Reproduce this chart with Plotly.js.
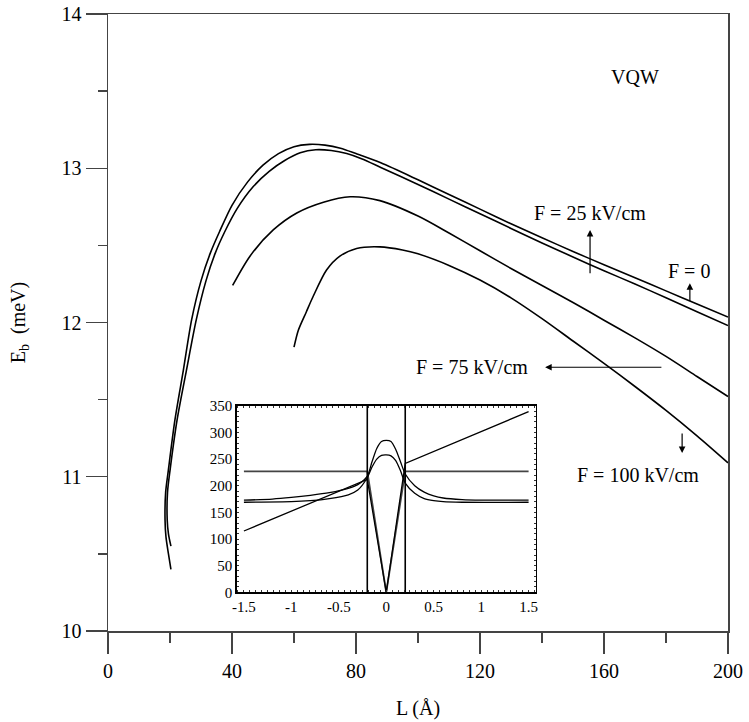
<!DOCTYPE html>
<html>
<head>
<meta charset="utf-8">
<script src="https://cdn.plot.ly/plotly-3.0.1.min.js"></script>
<style>html,body{margin:0;padding:0;background:#fff;}#chart{width:749px;height:722px;}</style>
</head>
<body>
<div id="chart"></div>
<script>
// ---- Main chart data: binding energy Eb (meV) vs well width L (Å) ----
const L_F0 = [20.3, 19.5, 18.7, 18.4, 18.6, 19.45, 21.6, 24.3, 27.0, 30, 33, 36, 40, 45, 50, 55, 60, 65, 70, 75, 80, 88, 100, 110, 120, 130, 140, 150, 160, 170, 180, 190, 200];
const E_F0 = [10.40, 10.50, 10.61, 10.72, 10.90, 11.04, 11.37, 11.69, 12.02, 12.27, 12.45, 12.59, 12.76, 12.91, 13.02, 13.095, 13.14, 13.155, 13.15, 13.13, 13.095, 13.035, 12.925, 12.83, 12.735, 12.64, 12.55, 12.46, 12.375, 12.29, 12.205, 12.12, 12.035];

const L_F25 = [20.3, 19.5, 19.1, 19.2, 20.0, 22.3, 25.3, 28.5, 31.6, 34.6, 37.7, 41.7, 46.8, 52, 57, 62, 67, 72, 77, 82, 88, 100, 110, 120, 130, 140, 150, 160, 170, 180, 190, 200];
const E_F25 = [10.55, 10.63, 10.72, 10.90, 11.04, 11.37, 11.69, 12.02, 12.27, 12.45, 12.59, 12.74, 12.88, 12.98, 13.05, 13.10, 13.12, 13.115, 13.095, 13.06, 13.005, 12.895, 12.80, 12.705, 12.61, 12.515, 12.425, 12.335, 12.25, 12.16, 12.07, 11.98];

const L_F75 = [40.2, 45.8, 53.3, 60.9, 69.5, 78.1, 87.7, 100, 110, 120, 130, 140, 150, 160, 170, 180, 190, 200];
const E_F75 = [12.24, 12.43, 12.60, 12.71, 12.78, 12.815, 12.79, 12.69, 12.58, 12.465, 12.35, 12.24, 12.13, 12.015, 11.90, 11.78, 11.65, 11.52];

const L_F100 = [60, 61.4, 64, 66.2, 70.5, 74.8, 80.2, 87.7, 95, 100, 110, 120, 130, 140, 150, 160, 170, 180, 190, 200];
const E_F100 = [11.84, 11.95, 12.07, 12.17, 12.34, 12.43, 12.48, 12.49, 12.47, 12.445, 12.37, 12.275, 12.16, 12.025, 11.88, 11.735, 11.585, 11.43, 11.265, 11.09];

// ---- Inset data: potential profiles and densities vs z ----
const z_pot = [-1.5, -0.2, 0, 0.2, 1.5];
const V_F0 = [227, 227, 0, 227, 227];
const V_F = [115, 212, 0, 242, 339];
const z_wall = [-0.2, 0.2];
const wall_y = [0, 350];

const z_wA = [-1.5, -1.2, -1.0, -0.8, -0.6, -0.4, -0.3, -0.2, -0.15, -0.1, -0.05, 0, 0.05, 0.1, 0.15, 0.2, 0.3, 0.4, 0.5, 0.6, 0.8, 1.0, 1.5];
const psiA = [173, 175, 178, 182, 187, 195, 202, 218, 245, 270, 283, 285, 283, 268, 245, 222, 200, 188, 181, 177, 174, 173, 173];
const z_wB = [-1.5, -1.0, -0.8, -0.6, -0.4, -0.3, -0.2, -0.15, -0.1, -0.05, 0, 0.05, 0.1, 0.15, 0.2, 0.3, 0.4, 0.5, 0.6, 0.8, 1.5];
const psiB = [169, 170, 172, 176, 183, 192, 215, 235, 250, 257, 258, 256, 247, 228, 205, 186, 176, 172, 170, 169, 169];

const xTicksMain = [0, 40, 80, 120, 160, 200];
const yTicksMain = [10, 11, 12, 13, 14];
const xTicksInset = [-1.5, -1, -0.5, 0, 0.5, 1, 1.5];
const xTickTextInset = ['-1.5', '-1', '-0.5', '0', '0.5', '1', '1.5'];

const FONT = 'Liberation Serif';
const lineMain = {color: '#000', width: 1.6, shape: 'spline', smoothing: 0.8};
const lineIn = {color: '#000', width: 1.3};

const traces = [
  {x: L_F0, y: E_F0, mode: 'lines', line: lineMain, xaxis: 'x', yaxis: 'y'},
  {x: L_F25, y: E_F25, mode: 'lines', line: lineMain, xaxis: 'x', yaxis: 'y'},
  {x: L_F75, y: E_F75, mode: 'lines', line: lineMain, xaxis: 'x', yaxis: 'y'},
  {x: L_F100, y: E_F100, mode: 'lines', line: lineMain, xaxis: 'x', yaxis: 'y'},
  {x: z_pot, y: V_F0, mode: 'lines', line: {color: '#444', width: 1.8}, xaxis: 'x2', yaxis: 'y2'},
  {x: z_pot, y: V_F, mode: 'lines', line: lineIn, xaxis: 'x2', yaxis: 'y2'},
  {x: [z_wall[0], z_wall[0]], y: wall_y, mode: 'lines', line: {color: '#000', width: 1.6}, xaxis: 'x2', yaxis: 'y2'},
  {x: [z_wall[1], z_wall[1]], y: wall_y, mode: 'lines', line: {color: '#000', width: 1.6}, xaxis: 'x2', yaxis: 'y2'},
  {x: z_wA, y: psiA, mode: 'lines', line: Object.assign({shape: 'spline', smoothing: 0.7}, lineIn), xaxis: 'x2', yaxis: 'y2'},
  {x: z_wB, y: psiB, mode: 'lines', line: Object.assign({shape: 'spline', smoothing: 0.7}, lineIn), xaxis: 'x2', yaxis: 'y2'}
];

function arrow(x, y, ax, ay) {
  return {x: x, y: y, ax: ax, ay: ay, xref: 'x', yref: 'y', axref: 'x', ayref: 'y',
          text: '', showarrow: true, arrowhead: 2, arrowsize: 1.1, arrowwidth: 1.2, arrowcolor: '#000'};
}
function label(x, y, t) {
  return {x: x, y: y, xref: 'x', yref: 'y', text: t, showarrow: false,
          font: {family: FONT, size: 20, color: '#000'}};
}

const layout = {
  width: 749, height: 722,
  margin: {l: 108, r: 21, t: 14, b: 91},
  paper_bgcolor: '#fff', plot_bgcolor: '#fff',
  showlegend: false,
  font: {family: FONT, size: 20, color: '#000'},
  xaxis: {
    domain: [0, 1], range: [0, 200], tickvals: xTicksMain, ticks: 'outside', ticklen: 21, tickwidth: 1.4,
    tickcolor: '#444', showline: true, linecolor: '#444', linewidth: 1.5, mirror: true,
    showgrid: false, zeroline: false,
    minor: {dtick: 20, ticks: 'outside', ticklen: 10, tickwidth: 1.4, tickcolor: '#444', showgrid: false},
    tickfont: {family: FONT, size: 20},
    title: {text: 'L (Å)', font: {family: FONT, size: 20}, standoff: 20}
  },
  yaxis: {
    domain: [0, 1], range: [10, 14], tickvals: yTicksMain, ticks: 'outside', ticklen: 21, tickwidth: 1.4,
    tickcolor: '#444', showline: true, linecolor: '#444', linewidth: 1.5, mirror: true,
    showgrid: false, zeroline: false,
    minor: {dtick: 0.5, ticks: 'outside', ticklen: 9, tickwidth: 1.4, tickcolor: '#444', showgrid: false},
    tickfont: {family: FONT, size: 20},
    title: {text: 'E<sub>b</sub>  (meV)', font: {family: FONT, size: 20}, standoff: 30}
  },
  xaxis2: {
    domain: [0.2076, 0.690], anchor: 'y2', range: [-1.576, 1.576], tickvals: xTicksInset, ticktext: xTickTextInset,
    ticks: 'inside', ticklen: 2, tickwidth: 1, tickcolor: '#333', showline: true, linecolor: '#000', linewidth: 1.5, mirror: 'ticks',
    minor: {dtick: 0.0625, ticks: 'inside', ticklen: 2, tickwidth: 1, tickcolor: '#333', showgrid: false},
    showgrid: false, zeroline: false, tickfont: {family: FONT, size: 15}
  },
  yaxis2: {
    domain: [0.0627, 0.365], anchor: 'x2', range: [0, 350], dtick: 50,
    ticks: 'inside', ticklen: 2, tickwidth: 1, tickcolor: '#333', showline: true, linecolor: '#000', linewidth: 1.5, mirror: 'ticks',
    minor: {dtick: 10, ticks: 'inside', ticklen: 2, tickwidth: 1, tickcolor: '#333', showgrid: false},
    showgrid: false, zeroline: false, tickfont: {family: FONT, size: 15}
  },
  annotations: [
    label(170, 13.59, 'VQW'),
    label(155.5, 12.71, 'F = 25 kV/cm'),
    arrow(155.5, 12.60, 155.5, 12.31),
    label(187.5, 12.335, 'F = 0'),
    arrow(187.7, 12.255, 187.7, 12.13),
    label(117.4, 11.71, 'F = 75 kV/cm'),
    arrow(141, 11.71, 179, 11.71),
    label(171, 11.01, 'F = 100 kV/cm'),
    arrow(185.2, 11.154, 185.2, 11.29)
  ]
};

Plotly.newPlot('chart', traces, layout, {displayModeBar: false, staticPlot: true});
</script>
</body>
</html>
